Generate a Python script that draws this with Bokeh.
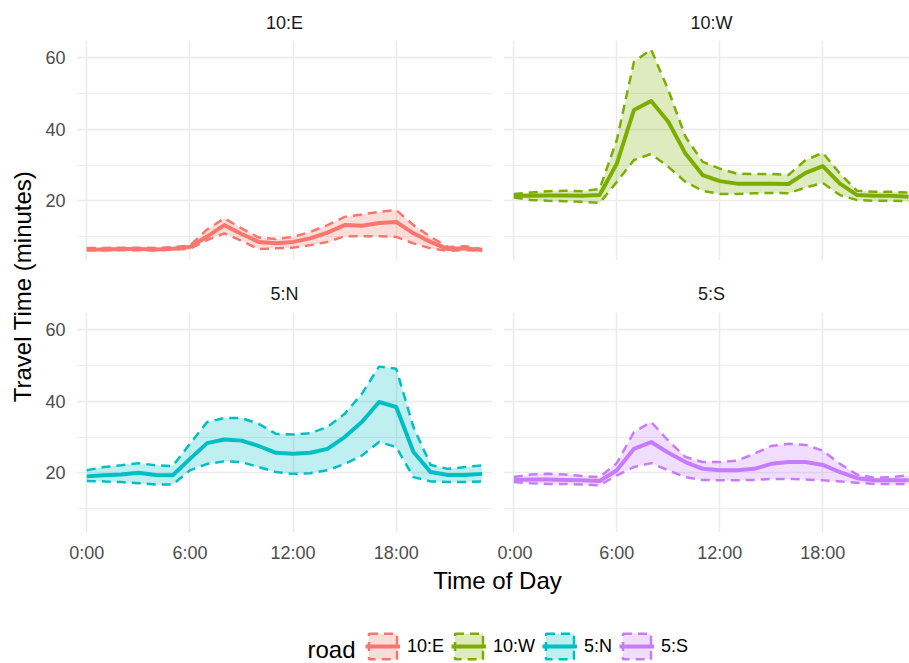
import math
from bokeh.plotting import figure
from bokeh.models import (Range1d, FixedTicker, Label, Legend, LegendItem,
                          ColumnDataSource)
from bokeh.layouts import row, column
from bokeh.embed import file_html
from bokeh.resources import INLINE

FONT = "Liberation Sans"

# ---------------- data ----------------
hours = list(range(24))
tick_hours = [0, 6, 12, 18]
tick_labels = ["0:00", "6:00", "12:00", "18:00"]
y_ticks = [20, 40, 60]
y_minor = [10, 30, 50]
roads = ["10:E", "10:W", "5:N", "5:S"]
colors = ["#F8766D", "#7CAE00", "#00BFC4", "#C77CFF"]

e10_med = [6.4, 6.4, 6.5, 6.5, 6.4, 6.6, 7.1, 10.0, 13.2, 10.7, 8.5, 8.1,
           8.5, 9.5, 11.1, 13.2, 13.0, 13.8, 14.1, 10.9, 8.5, 6.5, 6.7, 6.2]
e10_up = [6.8, 6.8, 6.9, 6.9, 6.8, 7.0, 7.5, 12.0, 15.1, 12.3, 9.7, 9.3,
          9.9, 11.3, 13.2, 15.5, 16.2, 16.9, 17.4, 13.2, 9.9, 7.1, 7.3, 6.5]
e10_lo = [6.2, 6.2, 6.2, 6.2, 6.1, 6.3, 6.6, 9.0, 10.9, 8.8, 6.5, 6.7,
          6.9, 7.6, 8.5, 10.1, 10.1, 10.1, 9.9, 8.1, 6.7, 6.0, 6.2, 6.0]

w10_med = [21.4, 21.4, 21.5, 21.5, 21.4, 21.6, 30.4, 45.4, 47.9, 42.1, 33.2, 27.2,
           25.5, 24.8, 24.8, 24.8, 24.7, 27.8, 29.7, 24.8, 21.6, 21.4, 21.4, 21.1]
w10_up = [21.9, 22.3, 22.7, 22.8, 22.7, 23.3, 37.0, 58.9, 62.3, 51.0, 37.9, 30.9,
          29.0, 27.6, 27.5, 27.5, 27.2, 31.4, 33.4, 27.6, 22.8, 22.5, 22.5, 22.3]
w10_lo = [20.9, 20.2, 20.0, 19.9, 19.7, 19.4, 25.3, 31.4, 33.1, 29.5, 25.3, 22.8,
          21.9, 21.9, 22.1, 22.2, 22.1, 23.7, 25.0, 21.6, 20.2, 20.0, 20.0, 19.9]

n5_med = [19.0, 19.3, 19.5, 20.0, 19.4, 19.3, 23.9, 28.3, 29.3, 29.0, 27.5, 25.6,
          25.3, 25.6, 26.7, 30.0, 34.2, 39.8, 38.4, 25.8, 20.2, 19.4, 19.4, 19.7]
n5_up = [20.7, 21.6, 22.1, 22.7, 22.1, 21.9, 28.1, 34.2, 35.3, 35.3, 33.7, 30.9,
         30.7, 31.1, 32.8, 36.5, 42.1, 49.7, 49.1, 32.8, 22.2, 21.1, 21.6, 22.1]
n5_lo = [17.7, 17.6, 17.4, 17.1, 16.7, 16.7, 20.7, 22.5, 23.2, 23.0, 21.6, 20.2,
         19.7, 19.9, 20.7, 22.5, 24.8, 28.6, 27.2, 18.8, 17.6, 17.4, 17.4, 17.6]

s5_med = [18.0, 18.1, 18.1, 18.0, 17.9, 17.7, 20.7, 26.7, 28.6, 25.6, 23.0, 21.1,
          20.7, 20.7, 21.1, 22.5, 23.0, 23.0, 22.2, 20.2, 18.5, 17.9, 17.9, 17.9]
s5_up = [18.8, 19.5, 19.7, 19.5, 19.1, 18.8, 22.7, 31.4, 34.2, 29.0, 24.4, 23.0,
         23.0, 23.4, 25.3, 27.5, 28.1, 27.8, 26.2, 22.5, 19.5, 18.6, 18.8, 19.3]
s5_lo = [17.4, 17.1, 16.9, 16.9, 16.7, 16.5, 19.3, 21.6, 22.7, 20.7, 18.8, 18.0,
         17.9, 17.9, 18.0, 18.3, 18.3, 18.1, 17.9, 17.6, 17.2, 16.9, 16.9, 16.9]

series = {
    "10:E": (e10_med, e10_up, e10_lo),
    "10:W": (w10_med, w10_up, w10_lo),
    "5:N": (n5_med, n5_up, n5_lo),
    "5:S": (s5_med, s5_up, s5_lo),
}

GRID = "#EBEBEB"
DASH = "9 6"
MED_W = 4.0
DASH_W = 2.5
FILL_A = 0.25
TICK_SIZE = "18px"
TITLE_SIZE = "24px"

# layout (px)
YLAB_W = 38
LEFT_W, RIGHT_W = 459, 412
LEFT_BORDER, MID_R, MID_L = 38, 5, 6
FRAME_H = 220
X_LO, X_HI_L, X_HI_R = -0.6, 23.6, 23.05
Y_LO, Y_HI = 3.3, 64.84


def make_panel(name, color, left_col, bottom_row):
    width = LEFT_W if left_col else RIGHT_W
    height = FRAME_H + (34 if bottom_row else 0)
    xr = Range1d(X_LO, X_HI_L if left_col else X_HI_R)
    p = figure(width=width, height=height, x_range=xr, y_range=Range1d(Y_LO, Y_HI),
               title=None, output_backend="svg", toolbar_location=None,
               x_axis_location="below" if bottom_row else None,
               y_axis_location="left" if left_col else None,
               min_border_left=LEFT_BORDER if left_col else MID_L,
               min_border_right=MID_R if left_col else 0,
               min_border_top=0,
               min_border_bottom=34 if bottom_row else 0)
    p.outline_line_color = None
    p.border_fill_color = "white"
    p.background_fill_color = "white"
    p.xgrid.ticker = FixedTicker(ticks=tick_hours)
    p.ygrid.ticker = FixedTicker(ticks=y_ticks, minor_ticks=y_minor)
    p.xgrid.grid_line_color = GRID
    p.xgrid.grid_line_width = 1.5
    p.ygrid.grid_line_color = GRID
    p.ygrid.grid_line_width = 1.5
    p.ygrid.minor_grid_line_color = GRID
    p.ygrid.minor_grid_line_width = 0.9

    for ax in (p.xaxis if bottom_row else []):
        ax.ticker = FixedTicker(ticks=tick_hours)
        ax.major_label_overrides = dict(zip(tick_hours, tick_labels))
    for ax in list(p.xaxis) + list(p.yaxis):
        ax.axis_line_color = None
        ax.major_tick_line_color = None
        ax.minor_tick_line_color = None
        ax.major_tick_out = 0
        ax.major_tick_in = 0
        ax.major_label_text_font = FONT
        ax.major_label_text_font_size = TICK_SIZE
        ax.major_label_text_color = "#4D4D4D"
    for ax in p.yaxis:
        ax.ticker = FixedTicker(ticks=y_ticks)
        ax.major_label_standoff = 11
    for ax in p.xaxis:
        ax.major_label_standoff = 10

    med, up, lo = series[name]
    src = ColumnDataSource(dict(x=hours, med=med, up=up, lo=lo))
    p.varea(x="x", y1="lo", y2="up", source=src, fill_color=color, fill_alpha=FILL_A)
    p.line(x="x", y="up", source=src, line_color=color, line_width=DASH_W, line_dash=DASH)
    p.line(x="x", y="lo", source=src, line_color=color, line_width=DASH_W, line_dash=DASH)
    p.line(x="x", y="med", source=src, line_color=color, line_width=MED_W, line_join="round")
    return p


def make_strip(names, height, text_from_bottom):
    """Facet strip texts above a row of panels."""
    w = LEFT_W + RIGHT_W
    s = figure(width=w, height=height, x_range=Range1d(0, w), y_range=Range1d(0, height),
               title=None, output_backend="svg", toolbar_location=None,
               x_axis_location=None, y_axis_location=None, min_border=0)
    s.grid.visible = False
    s.outline_line_color = None
    left_frame_w = LEFT_W - LEFT_BORDER - MID_R
    px_per_hour = left_frame_w / (X_HI_L - X_LO)
    centre_hour = (X_LO + X_HI_L) / 2
    cx_left = LEFT_BORDER + (centre_hour - X_LO) * px_per_hour
    cx_right = LEFT_W + MID_L + (centre_hour - X_LO) * px_per_hour
    for nm, cx in zip(names, (cx_left, cx_right)):
        s.add_layout(Label(x=cx, y=text_from_bottom, text=nm, text_align="center",
                           text_baseline="middle", text_font=FONT,
                           text_font_size=TICK_SIZE, text_color="#1A1A1A"))
    return s


tl = make_panel("10:E", colors[0], True, False)
tr = make_panel("10:W", colors[1], False, False)
bl = make_panel("5:N", colors[2], True, True)
br = make_panel("5:S", colors[3], False, True)
strip_top = make_strip(roads[:2], 40, 17.3)
strip_bot = make_strip(roads[2:], 52, 18.5)

panels = column(strip_top, row(tl, tr), strip_bot, row(bl, br))
PANELS_H = 40 + FRAME_H + 52 + FRAME_H + 34

# y-axis title strip
ylab = figure(width=YLAB_W, height=PANELS_H, x_range=Range1d(0, YLAB_W),
              y_range=Range1d(0, PANELS_H),
              title=None, output_backend="svg", toolbar_location=None,
              x_axis_location=None, y_axis_location=None, min_border=0)
ylab.grid.visible = False
ylab.outline_line_color = None
ylab.add_layout(Label(x=22, y=PANELS_H - 286, text="Travel Time (minutes)", angle=math.pi / 2,
                      text_align="center", text_baseline="middle",
                      text_font=FONT, text_font_size=TITLE_SIZE, text_color="black"))

# bottom strip: x title and legend
BOT_H = 97
bot = figure(width=909, height=BOT_H, x_range=Range1d(0, 909), y_range=Range1d(0, BOT_H),
             title=None, output_backend="svg", toolbar_location=None,
             x_axis_location=None, y_axis_location=None, min_border=0)
bot.grid.visible = False
bot.outline_line_color = None
bot.add_layout(Label(x=497, y=BOT_H - 14, text="Time of Day", text_align="center",
                     text_baseline="middle", text_font=FONT, text_font_size=TITLE_SIZE,
                     text_color="black"))
bot.add_layout(Label(x=307, y=BOT_H - 83, text="road", text_align="left",
                     text_baseline="middle", text_font=FONT, text_font_size=TITLE_SIZE,
                     text_color="black"))

items = []
for name, c in zip(roads, colors):
    # legend-only renderers, kept outside the visible range of this strip
    qsrc = ColumnDataSource(dict(l=[-20], r=[-10], t=[-10], b=[-20]))
    q = bot.quad(left="l", right="r", top="t", bottom="b", source=qsrc,
                 fill_color=c, fill_alpha=FILL_A, line_color=c,
                 line_dash=DASH, line_width=DASH_W)
    lsrc = ColumnDataSource(dict(x=[-20, -10], y=[-20, -20]))
    ln = bot.line(x="x", y="y", source=lsrc, line_color=c, line_width=MED_W)
    items.append(LegendItem(label=name, renderers=[q, ln]))

legend = Legend(items=items, orientation="horizontal",
                location=(365, 1),
                glyph_width=35, glyph_height=32, label_height=32,
                label_standoff=7, spacing=7, padding=0, margin=0,
                label_text_font=FONT, label_text_font_size=TICK_SIZE,
                label_text_color="black",
                border_line_color=None, background_fill_alpha=0)
bot.add_layout(legend)

layout = column(row(ylab, panels), bot)

open("out.html", "w").write(file_html(layout, INLINE))
